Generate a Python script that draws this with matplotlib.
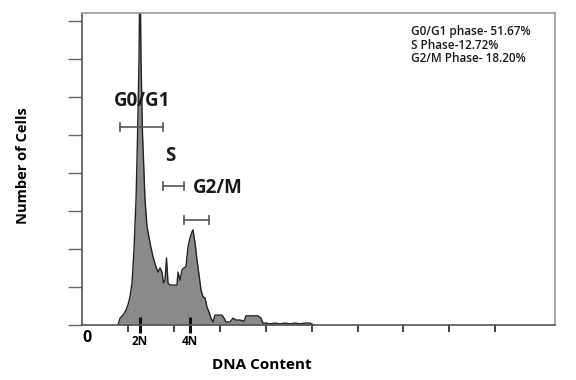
import matplotlib
matplotlib.use("Agg")
import matplotlib.pyplot as plt
import numpy as np

# DNA content channel and cell counts
channel = [78.4, 82.8, 89.3, 95.8, 100.2, 104.5, 108.9, 113.2, 117.6, 120.8, 124.1, 126.3,
           128.5, 131.7, 137.2, 141.6, 148.1, 154.6, 161.1, 165.5, 169.9, 174.2, 177.5,
           180.7, 184.0, 187.3, 191.6, 200.3, 206.9, 209.0, 213.4, 217.8, 222.1, 226.5,
           230.8, 235.2, 239.5, 241.7, 246.1, 250.4, 254.8, 259.1, 263.5, 267.9, 272.2,
           276.6, 280.9, 285.3, 289.6, 298.3, 304.9, 309.2, 313.6, 322.3, 328.8, 335.4,
           344.1, 352.8, 357.1, 365.9, 374.6, 383.3, 389.8, 394.1, 400.7, 409.4, 420.3,
           431.2, 442.1, 453.0, 463.9, 474.7, 485.6, 496.5, 505.2]
counts = [0.0, 0.18, 0.26, 0.39, 0.53, 0.74, 1.10, 1.97, 3.29, 4.87, 6.97, 9.5,
          6.97, 5.05, 3.29, 2.58, 2.16, 1.79, 1.53, 1.39, 1.50, 1.39, 1.10,
          1.18, 1.76, 1.10, 1.05, 1.05, 1.05, 1.39, 1.18, 1.45, 1.50, 1.53,
          2.05, 2.29, 2.45, 2.50, 2.16, 1.71, 1.32, 0.92, 0.74, 0.71, 0.47,
          0.34, 0.18, 0.08, 0.26, 0.26, 0.26, 0.18, 0.08, 0.08, 0.18, 0.13,
          0.13, 0.10, 0.24, 0.24, 0.24, 0.24, 0.18, 0.05, 0.05, 0.03, 0.05,
          0.03, 0.05, 0.03, 0.05, 0.03, 0.05, 0.05, 0.0]

# Gates
gate_names = ["G0/G1", "S", "G2/M"]
gate_start = [82.8, 176.4, 222.1]
gate_end = [176.4, 222.1, 276.6]
gate_level = [5.21, 3.66, 2.76]
gate_label_x = [130, 192, 296]
gate_label_y = [5.9, 4.45, 3.6]

stats_lines = ["G0/G1 phase- 51.67%", "S Phase-12.72%", "G2/M Phase- 18.20%"]

major_ticks = [100, 200, 300, 400, 500, 600, 700, 800, 900]
ploidy_ticks = [126, 235]
ploidy_labels = ["2N", "4N"]

FONT = "Open Sans"

fig = plt.figure(figsize=(5.76, 3.8), dpi=100)
ax = fig.add_axes([82/576, 1 - 325/380, (555-82)/576, (325-13)/380])
ax.set_xlim(0, 1030)
ax.set_ylim(0, 8.2)

ax.fill_between(channel, counts, 0, color="#8a8a8a", linewidth=0)
ax.plot(channel, counts, color="#222222", linewidth=1.0)

for s, e, lv in zip(gate_start, gate_end, gate_level):
    ax.plot([s, e], [lv, lv], color="#555555", linewidth=1.2)
    ax.plot([s, s], [lv - 0.1, lv + 0.1], color="#555555", linewidth=1.2)
    ax.plot([e, e], [lv - 0.1, lv + 0.1], color="#555555", linewidth=1.2)

for name, lx, ly in zip(gate_names, gate_label_x, gate_label_y):
    ax.text(lx, ly, name, ha="center", va="center", fontsize=13.5,
            fontweight="bold", family=FONT, color="#1a1a1a")

ax.text(0.696, 0.96, "\n".join(stats_lines), transform=ax.transAxes,
        ha="left", va="top", fontsize=8.5, family=FONT, fontweight="semibold",
        color="#1a1a1a", linespacing=1.05)

for side in ["top", "right"]:
    ax.spines[side].set_color("#9a9a9a")
    ax.spines[side].set_linewidth(1.2)
for side in ["left", "bottom"]:
    ax.spines[side].set_color("#555555")
    ax.spines[side].set_linewidth(1.2)

ax.set_yticks(np.arange(0, 9))
ax.set_yticklabels([])
ax.tick_params(axis="y", direction="out", length=10, width=1, color="#666666")

ax.set_xticks(major_ticks)
ax.set_xticklabels([])
ax.tick_params(axis="x", direction="out", length=5, width=1.3, color="#333333")
ax.set_xticks(ploidy_ticks, minor=True)
ax.set_xticklabels(ploidy_labels, minor=True)
ax.tick_params(axis="x", which="minor", direction="inout", length=11, width=2.2,
               color="#111111", pad=2, labelsize=8.5)
for t in ax.get_xticklabels(minor=True):
    t.set_fontweight("bold")
    t.set_family(FONT)

ax.text(10, -0.12, "0", ha="center", va="top", fontsize=11.5, fontweight="bold",
        family=FONT)

ax.set_xlabel("DNA Content", fontsize=11, fontweight="bold", family=FONT)
ax.xaxis.set_label_coords(0.38, -0.106)
ax.set_ylabel("Number of Cells", fontsize=10.5, fontweight="bold", family=FONT)
ax.yaxis.set_label_coords(-0.11, 0.51)

fig.savefig("out.png", dpi=100)
